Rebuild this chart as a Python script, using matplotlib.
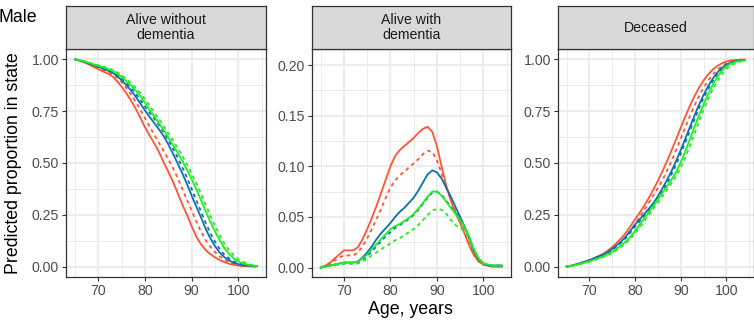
import matplotlib.pyplot as plt
import numpy as np

plt.rcParams['font.family'] = ['Liberation Sans', 'DejaVu Sans']

ages = list(range(65, 105))

# predicted proportion alive without dementia
awd_red = [1.000, 0.993, 0.985, 0.975, 0.963, 0.952, 0.942, 0.932, 0.918, 0.895,
           0.867, 0.836, 0.801, 0.762, 0.718, 0.672, 0.632, 0.594, 0.553, 0.503,
           0.458, 0.410, 0.355, 0.300, 0.250, 0.195, 0.145, 0.108, 0.080, 0.060,
           0.045, 0.032, 0.022, 0.014, 0.009, 0.005, 0.003, 0.002, 0.001, 0.001]
awd_red_d = [1.000, 0.994, 0.987, 0.978, 0.968, 0.958, 0.949, 0.940, 0.929, 0.912,
             0.890, 0.862, 0.831, 0.796, 0.758, 0.716, 0.675, 0.636, 0.597, 0.558,
             0.518, 0.476, 0.428, 0.375, 0.322, 0.270, 0.218, 0.170, 0.128, 0.096,
             0.071, 0.050, 0.034, 0.022, 0.014, 0.008, 0.005, 0.003, 0.002, 0.001]
awd_blue = [1.000, 0.995, 0.988, 0.980, 0.972, 0.964, 0.955, 0.946, 0.936, 0.920,
            0.899, 0.876, 0.850, 0.820, 0.787, 0.753, 0.722, 0.692, 0.662, 0.630,
            0.590, 0.545, 0.498, 0.450, 0.398, 0.343, 0.290, 0.238, 0.183, 0.137,
            0.099, 0.068, 0.046, 0.030, 0.019, 0.012, 0.007, 0.005, 0.004, 0.003]
awd_blue_d = [1.000, 0.995, 0.989, 0.982, 0.974, 0.966, 0.958, 0.950, 0.940, 0.926,
              0.907, 0.886, 0.862, 0.835, 0.804, 0.772, 0.742, 0.713, 0.682, 0.648,
              0.612, 0.570, 0.526, 0.479, 0.429, 0.375, 0.320, 0.266, 0.212, 0.162,
              0.120, 0.085, 0.058, 0.040, 0.026, 0.016, 0.010, 0.006, 0.004, 0.003]
awd_green = [1.000, 0.996, 0.990, 0.983, 0.976, 0.969, 0.962, 0.954, 0.945, 0.932,
             0.915, 0.895, 0.873, 0.850, 0.822, 0.790, 0.756, 0.724, 0.692, 0.658,
             0.622, 0.587, 0.549, 0.510, 0.467, 0.422, 0.373, 0.321, 0.268, 0.217,
             0.170, 0.128, 0.090, 0.062, 0.040, 0.025, 0.015, 0.009, 0.005, 0.003]
awd_green_d = [1.000, 0.996, 0.991, 0.985, 0.978, 0.971, 0.965, 0.958, 0.950, 0.939,
               0.924, 0.906, 0.886, 0.863, 0.838, 0.808, 0.776, 0.743, 0.711, 0.678,
               0.643, 0.609, 0.572, 0.534, 0.494, 0.450, 0.402, 0.352, 0.299, 0.247,
               0.197, 0.152, 0.112, 0.080, 0.055, 0.036, 0.023, 0.014, 0.008, 0.004]

# predicted proportion alive with dementia
ad_red = [0.000, 0.002, 0.005, 0.009, 0.013, 0.017, 0.017, 0.017, 0.020, 0.028,
          0.038, 0.049, 0.061, 0.074, 0.087, 0.100, 0.110, 0.116, 0.120, 0.124,
          0.128, 0.133, 0.137, 0.139, 0.134, 0.120, 0.100, 0.081, 0.066, 0.054,
          0.044, 0.033, 0.021, 0.012, 0.006, 0.003, 0.002, 0.001, 0.001, 0.001]
ad_red_d = [0.000, 0.002, 0.004, 0.007, 0.010, 0.012, 0.012, 0.012, 0.015, 0.021,
            0.029, 0.038, 0.048, 0.058, 0.069, 0.079, 0.086, 0.091, 0.095, 0.099,
            0.103, 0.107, 0.112, 0.1155, 0.114, 0.106, 0.093, 0.079, 0.067, 0.056,
            0.046, 0.035, 0.023, 0.013, 0.006, 0.003, 0.002, 0.001, 0.001, 0.001]
ad_blue = [0.000, 0.001, 0.002, 0.003, 0.004, 0.005, 0.005, 0.005, 0.006, 0.010,
           0.015, 0.021, 0.028, 0.034, 0.039, 0.044, 0.050, 0.055, 0.059, 0.064,
           0.069, 0.076, 0.084, 0.092, 0.096, 0.094, 0.088, 0.079, 0.070, 0.060,
           0.050, 0.040, 0.028, 0.016, 0.008, 0.004, 0.002, 0.002, 0.002, 0.002]
ad_blue_d = [0.000, 0.001, 0.002, 0.003, 0.003, 0.004, 0.004, 0.004, 0.005, 0.008,
             0.011, 0.016, 0.021, 0.026, 0.031, 0.035, 0.039, 0.042, 0.045, 0.048,
             0.052, 0.057, 0.063, 0.069, 0.074, 0.075, 0.072, 0.066, 0.060, 0.054,
             0.048, 0.040, 0.029, 0.017, 0.008, 0.004, 0.002, 0.002, 0.002, 0.002]
ad_green = [0.000, 0.001, 0.002, 0.003, 0.004, 0.005, 0.005, 0.005, 0.006, 0.009,
            0.013, 0.018, 0.023, 0.028, 0.033, 0.038, 0.041, 0.043, 0.046, 0.049,
            0.053, 0.058, 0.064, 0.070, 0.075, 0.075, 0.071, 0.065, 0.059, 0.053,
            0.047, 0.040, 0.030, 0.018, 0.009, 0.004, 0.003, 0.002, 0.002, 0.002]
ad_green_d = [0.000, 0.001, 0.002, 0.003, 0.003, 0.004, 0.004, 0.004, 0.004, 0.006,
              0.009, 0.012, 0.015, 0.018, 0.021, 0.024, 0.027, 0.029, 0.032, 0.035,
              0.038, 0.042, 0.047, 0.052, 0.056, 0.058, 0.057, 0.053, 0.047, 0.042,
              0.039, 0.036, 0.028, 0.017, 0.009, 0.004, 0.003, 0.002, 0.002, 0.002]

# predicted proportion deceased
dec_red = [0.000, 0.005, 0.010, 0.016, 0.024, 0.031, 0.041, 0.051, 0.062, 0.077,
           0.095, 0.115, 0.138, 0.164, 0.195, 0.228, 0.260, 0.294, 0.331, 0.371,
           0.414, 0.460, 0.509, 0.561, 0.615, 0.670, 0.724, 0.775, 0.822, 0.863,
           0.898, 0.927, 0.950, 0.968, 0.981, 0.990, 0.995, 0.997, 0.998, 0.999]
dec_red_d = [0.000, 0.004, 0.009, 0.015, 0.022, 0.030, 0.039, 0.048, 0.056, 0.067,
             0.081, 0.100, 0.121, 0.146, 0.173, 0.205, 0.239, 0.273, 0.308, 0.343,
             0.379, 0.418, 0.462, 0.510, 0.562, 0.617, 0.672, 0.726, 0.776, 0.822,
             0.862, 0.897, 0.926, 0.950, 0.968, 0.981, 0.989, 0.994, 0.996, 0.998]
dec_blue = [0.000, 0.004, 0.010, 0.017, 0.024, 0.031, 0.040, 0.049, 0.058, 0.070,
            0.086, 0.103, 0.122, 0.146, 0.174, 0.203, 0.228, 0.253, 0.279, 0.306,
            0.340, 0.377, 0.418, 0.462, 0.510, 0.562, 0.617, 0.673, 0.728, 0.780,
            0.828, 0.870, 0.906, 0.936, 0.959, 0.975, 0.985, 0.991, 0.994, 0.996]
dec_blue_d = [0.000, 0.004, 0.009, 0.015, 0.023, 0.030, 0.038, 0.046, 0.055, 0.066,
              0.082, 0.098, 0.117, 0.139, 0.165, 0.193, 0.219, 0.245, 0.269, 0.297,
              0.328, 0.364, 0.403, 0.446, 0.493, 0.544, 0.598, 0.654, 0.710, 0.764,
              0.813, 0.857, 0.895, 0.927, 0.952, 0.970, 0.982, 0.989, 0.993, 0.995]
dec_green = [0.000, 0.003, 0.008, 0.014, 0.020, 0.026, 0.033, 0.041, 0.049, 0.059,
             0.072, 0.087, 0.104, 0.122, 0.145, 0.172, 0.203, 0.233, 0.262, 0.293,
             0.325, 0.356, 0.388, 0.420, 0.458, 0.503, 0.556, 0.614, 0.673, 0.730,
             0.783, 0.832, 0.876, 0.914, 0.945, 0.966, 0.980, 0.988, 0.992, 0.995]
dec_green_d = [0.000, 0.003, 0.007, 0.012, 0.018, 0.024, 0.031, 0.038, 0.046, 0.055,
               0.066, 0.080, 0.096, 0.114, 0.136, 0.161, 0.190, 0.219, 0.248, 0.278,
               0.309, 0.340, 0.371, 0.403, 0.438, 0.478, 0.526, 0.581, 0.640, 0.700,
               0.756, 0.808, 0.854, 0.894, 0.928, 0.954, 0.971, 0.982, 0.989, 0.993]

red = '#FF5533'
blue = '#0A72B0'
green = '#1EF01E'
styles = [(red, '-'), (red, '--'), (blue, '-'), (blue, '--'), (green, '-'), (green, '--')]

panels = [
    ('Alive without\ndementia', [awd_red, awd_red_d, awd_blue, awd_blue_d, awd_green, awd_green_d],
     (-0.05, 1.05), [0, 0.25, 0.5, 0.75, 1.0], [0.125, 0.375, 0.625, 0.875]),
    ('Alive with\ndementia', [ad_red, ad_red_d, ad_blue, ad_blue_d, ad_green, ad_green_d],
     (-0.0093, 0.2158), [0, 0.05, 0.10, 0.15, 0.20], [0.025, 0.075, 0.125, 0.175]),
    ('Deceased', [dec_red, dec_red_d, dec_blue, dec_blue_d, dec_green, dec_green_d],
     (-0.05, 1.05), [0, 0.25, 0.5, 0.75, 1.0], [0.125, 0.375, 0.625, 0.875]),
]

W, H = 754.0, 320.0
lefts = [66.0, 311.7, 557.7]
widths = [200.0, 199.3, 195.8]
top, bottom, strip_top = 49.0, 277.0, 6.0

fig = plt.figure(figsize=(W / 100, H / 100), dpi=100)

for (title, series, ylim, yticks, yminor), left, width in zip(panels, lefts, widths):
    ax = fig.add_axes([left / W, 1 - bottom / H, width / W, (bottom - top) / H])
    ax.set_xlim(63.05, 105.95)
    ax.set_ylim(*ylim)
    ax.set_xticks([70, 80, 90, 100])
    ax.set_xticks([65, 75, 85, 95, 105], minor=True)
    ax.set_yticks(yticks)
    ax.set_yticks(yminor, minor=True)
    ax.set_yticklabels(['%.2f' % t for t in yticks])
    ax.grid(which='major', color='#EBEBEB', linewidth=1.3)
    ax.grid(which='minor', color='#EBEBEB', linewidth=0.7)
    ax.set_axisbelow(True)
    ax.tick_params(which='major', length=3, width=0.8, color='#333333',
                   labelcolor='#4D4D4D', labelsize=10.2, pad=2)
    ax.tick_params(which='minor', length=0)
    for sp in ax.spines.values():
        sp.set_color('#333333')
        sp.set_linewidth(0.9)

    for vals, (col, ls) in zip(series, styles):
        line, = ax.plot(ages, vals, color=col, linestyle=ls, linewidth=1.3)
        if ls == '--':
            line.set_dashes((2.0, 2.0))

    sax = fig.add_axes([left / W, 1 - top / H, width / W, (top - strip_top) / H])
    sax.set_facecolor('#D9D9D9')
    sax.set_xticks([])
    sax.set_yticks([])
    for sp in sax.spines.values():
        sp.set_color('#333333')
        sp.set_linewidth(0.9)
    sax.text(0.5, 0.5, title, ha='center', va='center', fontsize=10.2,
             color='#1A1A1A', transform=sax.transAxes, linespacing=1.05)

fig.text(-0.002, 1 - 17 / H, 'Male', ha='left', va='center', fontsize=12.8)
fig.text(14 / W, 1 - 163 / H, 'Predicted proportion in state', rotation=90,
         ha='center', va='center', fontsize=12.8)
fig.text(410 / W, 1 - 310 / H, 'Age, years', ha='center', va='center', fontsize=12.8)

fig.savefig('out.png', dpi=100)
plt.close(fig)
